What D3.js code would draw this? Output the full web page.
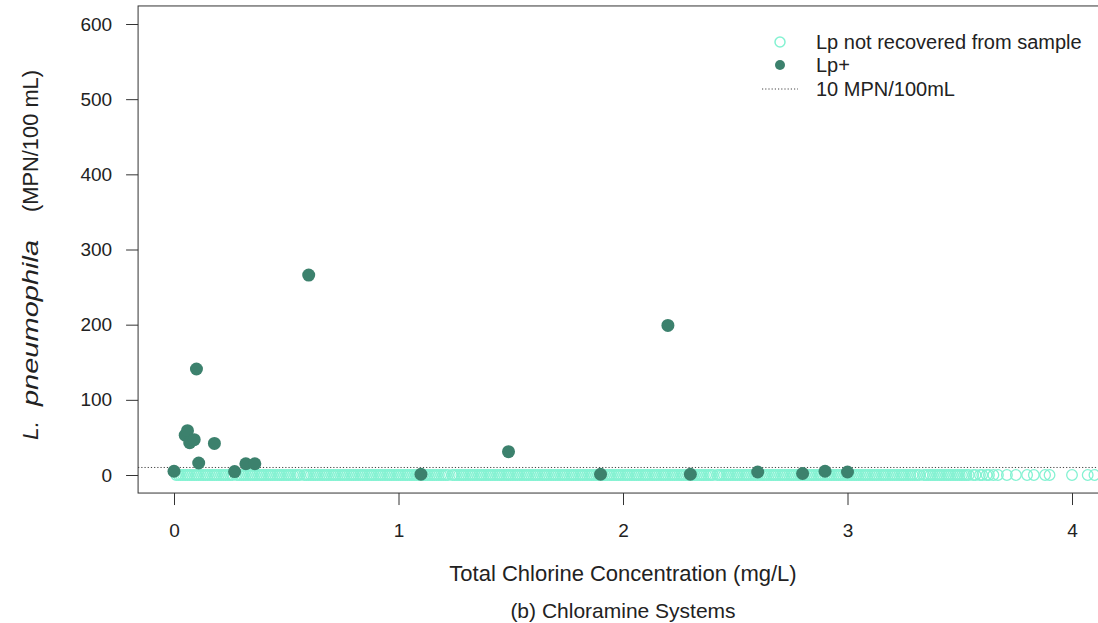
<!DOCTYPE html>
<html>
<head>
<meta charset="utf-8">
<script src="https://cdn.jsdelivr.net/npm/d3@7"></script>
<style>
  body { margin: 0; background: #fff; }
  svg text { font-family: "Liberation Sans", Arial, sans-serif; fill: #222; }
</style>
</head>
<body>
<script>
// Lp+ samples: chlorine (mg/L) and L. pneumophila (MPN/100 mL)
var posChlorine = [0.00, 0.05, 0.06, 0.07, 0.09, 0.10, 0.11, 0.18, 0.27, 0.32, 0.36,
                   0.60, 1.10, 1.49, 1.90, 2.20, 2.30, 2.60, 2.80, 2.90, 3.00];
var posMPN = [5, 53, 59, 43, 47, 141, 16, 42, 4.5, 15, 15,
              266, 1, 31, 1, 199, 1, 4, 2, 5, 4];

// Lp not recovered (plotted at 0 MPN/100 mL)
var negChlorine = [
  0.01,0.02,0.03,0.04,0.05,0.06,0.07,0.08,0.09,
  0.10,0.11,0.12,0.13,0.14,0.15,0.16,0.17,0.18,0.19,
  0.20,0.21,0.22,0.23,0.24,0.25,0.26,0.28,0.29,
  0.30,0.31,0.32,0.33,0.34,0.35,0.36,0.37,0.38,0.39,
  0.40,0.41,0.42,0.43,0.44,0.45,0.46,0.47,0.48,0.49,
  0.50,0.51,0.52,0.53,0.54,0.55,0.56,0.58,0.59,
  0.60,0.61,0.62,0.63,0.64,0.65,0.66,0.67,0.68,0.69,
  0.70,0.71,0.72,0.73,0.74,0.75,0.76,0.77,0.78,0.79,
  0.80,0.81,0.82,0.83,0.84,0.85,0.86,0.87,0.88,0.89,
  0.90,0.91,0.92,0.93,0.94,0.95,0.96,0.97,0.98,0.99,
  1.00,1.01,1.02,1.03,1.04,1.05,1.06,1.07,1.08,1.09,
  1.10,1.11,1.12,1.13,1.14,1.15,1.16,1.17,1.18,1.19,
  1.20,1.21,1.22,1.24,1.25,1.26,1.27,1.28,1.29,
  1.30,1.31,1.32,1.33,1.34,1.35,1.36,1.37,1.38,1.39,
  1.40,1.41,1.42,1.43,1.44,1.45,1.46,1.47,1.48,1.49,
  1.50,1.51,1.52,1.53,1.54,1.55,1.56,1.57,1.58,1.59,
  1.60,1.61,1.62,1.63,1.64,1.65,1.66,1.67,1.68,1.69,
  1.70,1.71,1.72,1.73,1.74,1.75,1.76,1.77,1.78,1.79,
  1.80,1.81,1.82,1.83,1.84,1.85,1.86,1.87,1.88,1.89,
  1.90,1.91,1.92,1.93,1.94,1.95,1.96,1.97,1.98,1.99,
  2.00,2.01,2.02,2.03,2.04,2.05,2.06,2.07,2.08,2.09,
  2.10,2.11,2.12,2.13,2.14,2.15,2.16,2.17,2.18,2.19,
  2.20,2.21,2.22,2.23,2.24,2.25,2.26,2.27,2.28,2.29,
  2.30,2.31,2.32,2.33,2.34,2.35,2.36,2.37,2.38,2.39,
  2.40,2.42,2.43,2.44,2.45,2.46,2.47,2.48,2.49,
  2.50,2.51,2.52,2.53,2.54,2.55,2.56,2.57,2.58,2.59,
  2.60,2.61,2.62,2.63,2.64,2.65,2.66,2.67,2.68,2.69,
  2.70,2.71,2.72,2.73,2.74,2.75,2.76,2.77,2.78,2.79,
  2.80,2.81,2.82,2.83,2.84,2.85,2.86,2.87,2.88,2.89,
  2.90,2.91,2.92,2.93,2.94,2.95,2.96,2.97,2.98,2.99,
  3.00,3.01,3.02,3.03,3.04,3.05,3.06,3.07,3.08,3.09,
  3.10,3.11,3.12,3.13,3.14,3.15,3.16,3.17,3.18,3.19,
  3.20,3.21,3.22,3.23,3.24,3.25,3.26,3.27,3.28,3.29,
  3.30,3.31,3.32,3.34,3.35,3.36,3.37,3.38,3.39,
  3.40,3.41,3.42,3.43,3.44,3.45,3.46,3.47,3.48,3.49,
  3.50,3.51,3.52,3.53,3.54,3.56,3.57,3.59,
  3.60,3.62,3.63,3.65,
  3.67,3.71,3.75,3.80,3.83,3.88,3.90,4.00,4.07,4.10
];

var xTicks = [0, 1, 2, 3, 4];
var yTicks = [0, 100, 200, 300, 400, 500, 600];
var threshold = 10;
var legendLabels = ['Lp not recovered from sample', 'Lp+', '10 MPN/100mL'];

var W = 1098, H = 623;
var negCol = '#84f2d2', posCol = '#3c816d';

var x = d3.scaleLinear().domain([0, 4]).range([174, 1072]);
var y = d3.scaleLinear().domain([0, 600]).range([475, 24]);

// R-style 4% extension of the plot region
var usrX = [-0.16, 4.16];
var usrY = [-24, 624];

var svg = d3.select('body').append('svg')
    .attr('width', W)
    .attr('height', H);

var plot = svg.append('g');

plot.selectAll('.neg')
  .data(negChlorine)
  .enter()
  .append('circle')
  .attr('class', 'neg')
  .attr('cx', function (d) { return x(d); })
  .attr('cy', y(0))
  .attr('r', 5.3)
  .attr('fill', 'none')
  .attr('stroke', negCol)
  .attr('stroke-width', 1.3);

// threshold line
plot.append('line')
    .attr('x1', x(usrX[0])).attr('x2', x(usrX[1]))
    .attr('y1', y(threshold)).attr('y2', y(threshold))
    .attr('stroke', '#444')
    .attr('stroke-width', 1)
    .attr('stroke-dasharray', '1.2,2');

plot.selectAll('.pos')
  .data(posChlorine)
  .enter()
  .append('circle')
  .attr('class', 'pos')
  .attr('cx', function (d) { return x(d); })
  .attr('cy', function (d, i) { return y(posMPN[i]); })
  .attr('r', 6.5)
  .attr('fill', posCol);

// box
svg.append('rect')
    .attr('x', x(usrX[0]))
    .attr('y', y(usrY[1]))
    .attr('width', x(usrX[1]) - x(usrX[0]))
    .attr('height', y(usrY[0]) - y(usrY[1]))
    .attr('fill', 'none')
    .attr('stroke', '#333')
    .attr('stroke-width', 1);

// y axis
var yAxis = d3.axisLeft(y).tickValues(yTicks).tickSize(12).tickPadding(14);
svg.append('g')
    .attr('class', 'axis')
    .attr('transform', 'translate(' + x(usrX[0]) + ',0)')
    .call(yAxis);

// x axis
var xAxis = d3.axisBottom(x).tickValues(xTicks).tickFormat(d3.format('d'))
    .tickSize(12).tickPadding(18);
svg.append('g')
    .attr('class', 'axis')
    .attr('transform', 'translate(0,' + y(usrY[0]) + ')')
    .call(xAxis);

svg.selectAll('.axis .domain').remove();
svg.selectAll('.axis line').attr('stroke', '#333');
svg.selectAll('.axis text')
    .attr('font-size', '19px')
    .attr('fill', '#222')
    .style('font-family', '"Liberation Sans", Arial, sans-serif');

// axis titles
var cx = (x(usrX[0]) + x(usrX[1])) / 2;
svg.append('text')
    .attr('x', cx).attr('y', 581)
    .attr('text-anchor', 'middle')
    .attr('font-size', '22px')
    .text('Total Chlorine Concentration (mg/L)');

svg.append('text')
    .attr('x', cx).attr('y', 618)
    .attr('text-anchor', 'middle')
    .attr('font-size', '21px')
    .text('(b) Chloramine Systems');

// y title, pieces laid out along the rotated axis
var yTitle = [
  {t: 'L.', at: 440, len: 19, it: true},
  {t: 'pneumophila', at: 406, len: 166, it: true},
  {t: '(MPN/100 mL)', at: 212, len: 142, it: false}
];
svg.selectAll('.ytitle')
  .data(yTitle)
  .enter()
  .append('text')
  .attr('class', 'ytitle')
  .attr('transform', function (d) { return 'translate(38,' + d.at + ') rotate(-90)'; })
  .attr('font-size', '22px')
  .attr('font-style', function (d) { return d.it ? 'italic' : 'normal'; })
  .attr('textLength', function (d) { return d.len; })
  .attr('lengthAdjust', 'spacingAndGlyphs')
  .text(function (d) { return d.t; });

// legend
var leg = svg.append('g').attr('transform', 'translate(780,0)');
var rowY = [42, 65, 89];
leg.append('circle').attr('cx', 0).attr('cy', rowY[0]).attr('r', 5)
    .attr('fill', 'none').attr('stroke', negCol).attr('stroke-width', 1.5);
leg.append('circle').attr('cx', 0).attr('cy', rowY[1]).attr('r', 5)
    .attr('fill', posCol);
leg.append('line').attr('x1', -18).attr('x2', 18)
    .attr('y1', rowY[2]).attr('y2', rowY[2])
    .attr('stroke', '#444').attr('stroke-dasharray', '1.2,2');
leg.selectAll('.lab')
  .data(legendLabels)
  .enter()
  .append('text')
  .attr('x', 36)
  .attr('y', function (d, i) { return rowY[i]; })
  .attr('dy', '0.36em')
  .attr('font-size', '20px')
  .text(function (d) { return d; });
</script>
</body>
</html>
